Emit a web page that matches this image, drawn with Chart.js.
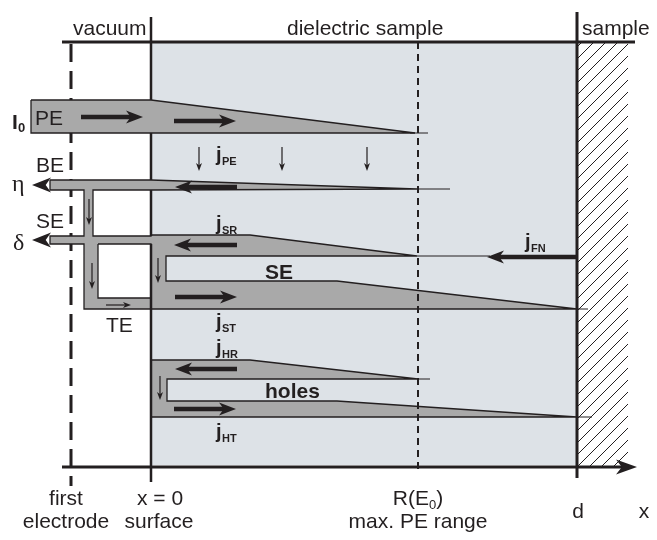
<!DOCTYPE html>
<html>
<head>
<meta charset="utf-8">
<script src="https://cdn.jsdelivr.net/npm/chart.js@4.4.0/dist/chart.umd.min.js"></script>
<style>
  html, body { margin: 0; padding: 0; background: #fff; }
  #wrap { width: 657px; height: 540px; position: relative; }
</style>
</head>
<body>
<div id="wrap"><canvas id="diagram"></canvas></div>
<script>
// diagram units: x to the right, y downwards (0..657 x 0..540)
const sampleArea = [[151, 42], [577, 42], [577, 465], [151, 465]];
const backContact = [[577, 42], [628, 42], [628, 466], [577, 466]];

// BE + SE + TE network (vacuum side and dielectric side in one outline)
const seNetwork = [
  [50, 180], [151, 180], [417, 189], [151, 190], [93, 190], [93, 236], [151, 236], [151, 235],
  [250, 235], [417, 256], [166, 256], [166, 281], [337, 281], [577, 309], [151, 309],
  [84, 309], [84, 244], [50, 244], [50, 236], [84, 236], [84, 190], [50, 190]
];
const teBox = [[98, 244], [151, 244], [151, 298], [98, 298]];
const peBand = [[31, 100], [151, 100], [415, 133], [31, 133]];
const holeBand = [[151, 360], [250, 360], [418, 379], [167, 379], [167, 401], [337, 401], [577, 417], [151, 417]];

// thin tails where the bands run out
const tails = [
  [[410, 133], [428, 133]], [[417, 189], [450, 189]], [[417, 256], [490, 256]],
  [[577, 309], [588, 309]], [[418, 379], [430, 379]], [[577, 417], [592, 417]]
];
const surfaceLine = [[[151, 17], [151, 100]], [[151, 133], [151, 180]], [[151, 190], [151, 236]], [[151, 244], [151, 482]]];
const topLine = [[62, 42], [635, 42]];
const wallLine = [[577, 12], [577, 478]];
const electrodeLine = [[71, 44], [71, 486]];
const rangeLine = [[418, 42], [418, 474]];

// arrows: tail x, tail y, tip x, tip y
const axisArrow = [62, 467, 637, 467];
const bigArrows = [
  [81, 117, 143, 117], [174, 121, 236, 121], [237, 187, 175, 187], [237, 245, 174, 245],
  [175, 297, 237, 297], [237, 369, 175, 369], [174, 409, 236, 409], [577, 257, 487, 257]
];
const smallArrows = [
  [199, 147, 199, 171], [282, 147, 282, 171], [367, 147, 367, 171],
  [89, 199, 89, 225], [92, 263, 92, 289], [106, 305, 131, 305],
  [158, 258, 158, 283], [160, 376, 160, 400]
];
const exitHeads = [[50, 185, 32, 185], [50, 240, 32, 240]];

// texts
const headLabels = [['vacuum', 73, 35], ['dielectric sample', 287, 35], ['sample', 582, 35]];
const sideLabels = [['PE', 35, 125], ['BE', 36, 172], ['SE', 36, 228], ['TE', 106, 332]];
const footLabels = [['first', 66, 505], ['electrode', 66, 528], ['x = 0', 160, 505], ['surface', 159, 528],
  ['max. PE range', 418, 528], ['d', 578, 518], ['x', 644, 518]];
const greekLabels = [['\u03b7', 12, 191], ['\u03b4', 13, 250]];
const bandLabels = [['SE', 265, 279], ['holes', 265, 398]];
const currents = [['PE', 216, 165], ['SR', 216, 234], ['ST', 216, 332], ['HR', 216, 358], ['HT', 216, 442], ['FN', 525, 252]];

const ink = '#231f20';
const bandGrey = '#a9a9a9';
const sans = "'Liberation Sans', Arial, Helvetica, sans-serif";

function hatch() {
  const s = 12, c = document.createElement('canvas');
  c.width = s; c.height = s;
  const g = c.getContext('2d');
  g.fillStyle = '#fff';
  g.fillRect(0, 0, s, s);
  g.strokeStyle = ink;
  g.lineWidth = 1;
  g.beginPath();
  g.moveTo(0, s); g.lineTo(s, 0);
  g.moveTo(-s / 2, s / 2); g.lineTo(s / 2, -s / 2);
  g.moveTo(s / 2, s * 1.5); g.lineTo(s * 1.5, s / 2);
  g.stroke();
  return g.createPattern(c, 'repeat');
}

const pts = arr => arr.map(([x, y]) => ({x, y}));
const shape = (arr, color, edge) => ({
  data: pts([...arr, arr[0]]), fill: 'shape', backgroundColor: color,
  borderColor: edge ? ink : 'rgba(0,0,0,0)', borderWidth: edge ? 1.3 : 0
});
const stroke = (arr, width, dash) => ({
  data: pts(arr), fill: false, borderColor: ink, borderWidth: width, borderDash: dash || []
});

const datasets = [
  shape(sampleArea, '#dde2e7'),
  shape(backContact, hatch()),
  stroke(electrodeLine, 3, [18, 9]),
  shape(seNetwork, bandGrey, true),
  shape(teBox, '#fff', true),
  shape(peBand, bandGrey, true),
  shape(holeBand, bandGrey, true),
  ...tails.map(t => stroke(t, 1)),
  ...surfaceLine.map(s => stroke(s, 2.5)),
  stroke(topLine, 3),
  stroke(wallLine, 3),
  stroke(rangeLine, 2, [7, 5])
].map((d, i) => Object.assign(d, {order: -i, pointRadius: 0, pointHoverRadius: 0, tension: 0}));

function arrow(ctx, x1, y1, x2, y2, w, hl, hw, shaft) {
  const a = Math.atan2(y2 - y1, x2 - x1), len = Math.hypot(x2 - x1, y2 - y1);
  ctx.save();
  ctx.translate(x2, y2);
  ctx.rotate(a);
  ctx.strokeStyle = ink;
  ctx.fillStyle = ink;
  if (shaft) {
    ctx.lineWidth = w;
    ctx.beginPath();
    ctx.moveTo(-len, 0);
    ctx.lineTo(-hl * 0.7, 0);
    ctx.stroke();
  }
  ctx.beginPath();
  ctx.moveTo(0, 0);
  ctx.lineTo(-hl, -hw);
  ctx.lineTo(-hl * 0.72, 0);
  ctx.lineTo(-hl, hw);
  ctx.closePath();
  ctx.fill();
  ctx.restore();
}

const drawing = {
  id: 'drawing',
  afterDatasetsDraw(chart) {
    const {ctx, scales: {x, y}} = chart;
    const X = v => x.getPixelForValue(v), Y = v => y.getPixelForValue(v);
    const put = (s, px, py, font, align) => {
      ctx.font = font;
      ctx.textAlign = align || 'left';
      ctx.textBaseline = 'alphabetic';
      ctx.fillStyle = ink;
      ctx.fillText(s, X(px), Y(py));
    };

    const [ax1, ay1, ax2, ay2] = axisArrow;
    arrow(ctx, X(ax1), Y(ay1), X(ax2), Y(ay2), 3, 21, 7.5, true);
    bigArrows.forEach(([a, b, c, d]) => arrow(ctx, X(a), Y(b), X(c), Y(d), 4.5, 17, 6.5, true));
    smallArrows.forEach(([a, b, c, d]) => arrow(ctx, X(a), Y(b), X(c), Y(d), 1.2, 8, 3, true));
    exitHeads.forEach(([a, b, c, d]) => arrow(ctx, X(a), Y(b), X(c), Y(d), 0, 19, 7.5, false));

    headLabels.forEach(([s, px, py]) => put(s, px, py, `21px ${sans}`));
    sideLabels.forEach(([s, px, py]) => put(s, px, py, `21px ${sans}`));
    footLabels.forEach(([s, px, py]) => put(s, px, py, `21px ${sans}`, 'center'));
    greekLabels.forEach(([s, px, py]) => put(s, px, py, `24px 'Liberation Serif', 'DejaVu Serif', serif`));
    bandLabels.forEach(([s, px, py]) => put(s, px, py, `bold 21px ${sans}`));

    // I0 on the incoming beam
    put('I', 12, 129, `bold 21px ${sans}`);
    put('0', 18, 132, `bold 13px ${sans}`);

    // R(E0) under the range line
    ctx.font = `21px ${sans}`;
    const w1 = ctx.measureText('R(E').width;
    ctx.font = `13px ${sans}`;
    const w2 = ctx.measureText('0').width;
    ctx.font = `21px ${sans}`;
    const w3 = ctx.measureText(')').width;
    const left = X(418) - (w1 + w2 + w3) / 2;
    ctx.textAlign = 'left';
    ctx.fillText('R(E', left, Y(505));
    ctx.font = `13px ${sans}`;
    ctx.fillText('0', left + w1, Y(509));
    ctx.font = `21px ${sans}`;
    ctx.fillText(')', left + w1 + w2, Y(505));

    // current densities j with subscripts
    currents.forEach(([sub, px, py]) => {
      put('j', px, py - 4, `bold 20px ${sans}`);
      put(sub, px + 6, py, `bold 11px ${sans}`);
    });
  }
};

new Chart(document.getElementById('diagram'), {
  type: 'line',
  data: {datasets},
  options: {
    animation: false,
    responsive: true,
    maintainAspectRatio: false,
    devicePixelRatio: 1,
    events: [],
    layout: {padding: 0},
    plugins: {legend: {display: false}, tooltip: {enabled: false}},
    scales: {
      x: {type: 'linear', min: 0, max: 657, display: false},
      y: {type: 'linear', min: 0, max: 540, reverse: true, display: false}
    }
  },
  plugins: [drawing]
});
</script>
</body>
</html>
